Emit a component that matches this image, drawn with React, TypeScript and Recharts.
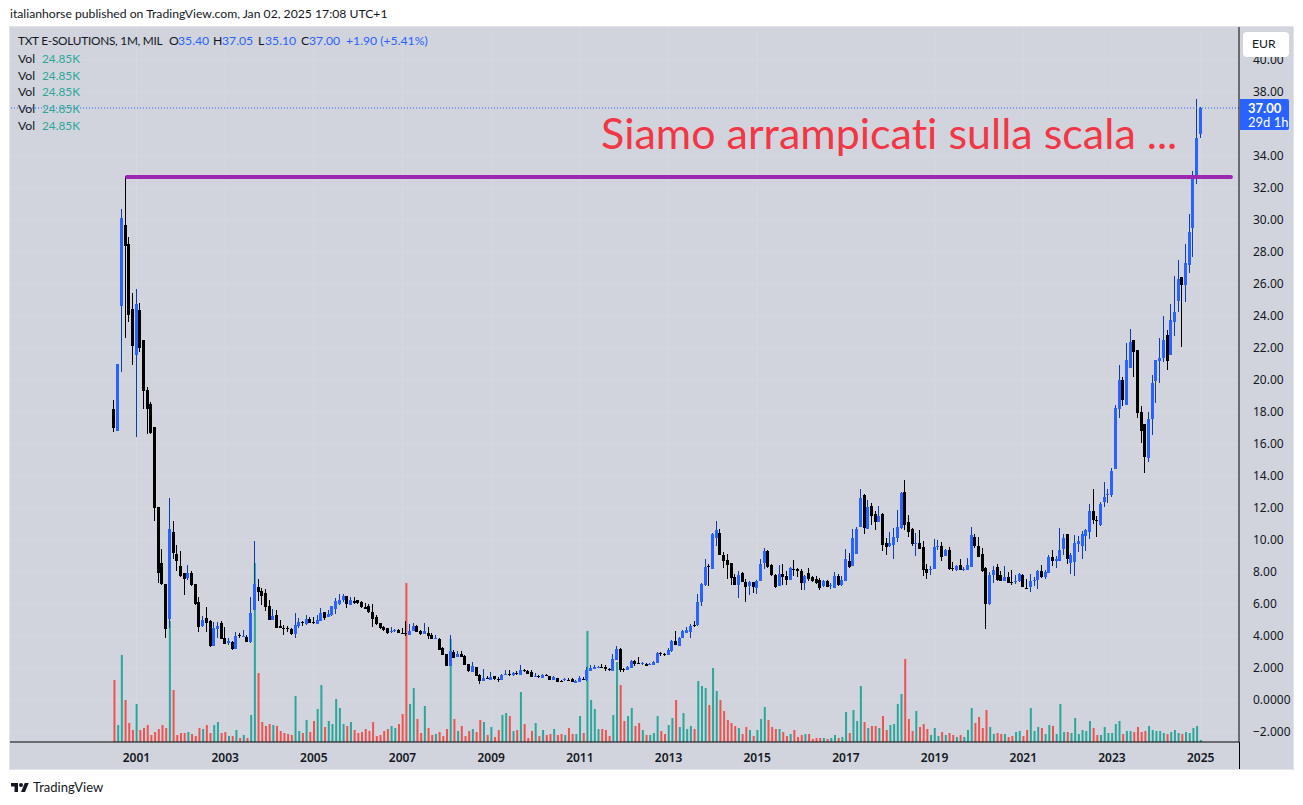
import { Bar, CartesianGrid, Cell, ComposedChart, ReferenceLine, XAxis, YAxis } from "recharts";

const opens = [
  18.19,16.83,24.64,29.69,28.5,24.44,21.58,24.38,22.5,19.38,
  18.5,17.06,12.06,8.54,7.25,5.08,10.5,9.13,8.38,7.92,
  7.6,7.94,7.25,6.13,4.63,5.13,4.94,3.38,4.44,4.81,
  3.88,3.56,3.63,3.19,4.06,3.94,3.94,3.63,5.63,7.06,
  6.81,6.69,5.88,5.0,5.31,4.63,4.5,4.5,4.44,4.13,
  4.63,4.88,4.73,5.06,4.88,4.75,4.96,5.5,5.19,5.31,
  5.69,6.0,6.25,6.5,5.94,6.19,6.25,6.13,5.81,5.88,
  5.5,5.19,4.81,4.56,4.5,4.25,4.31,4.38,4.19,4.19,
  4.06,4.31,4.63,4.31,4.13,4.19,4.06,3.81,3.81,3.25,
  2.88,2.13,3.0,2.69,2.88,2.75,2.25,1.75,2.06,1.56,
  1.19,1.38,1.25,1.5,1.31,1.25,1.56,1.63,1.56,1.69,
  1.56,1.88,1.81,1.75,1.44,1.5,1.38,1.56,1.5,1.25,
  1.38,1.17,1.25,1.25,1.31,1.06,1.13,1.31,1.25,1.81,
  1.94,2.0,2.06,2.06,1.96,1.81,2.5,3.19,1.94,1.88,
  2.0,2.44,2.31,2.25,2.25,2.19,2.19,2.31,2.94,2.88,
  2.81,3.06,3.69,3.38,3.88,4.19,4.25,4.69,4.69,6.13,
  7.19,8.38,8.19,10.13,10.44,9.06,8.75,8.56,7.69,7.19,
  7.94,7.38,7.13,7.38,7.0,7.44,8.56,9.31,8.44,7.81,
  7.13,7.88,7.75,7.5,8.19,8.19,8.06,7.31,7.94,7.69,
  7.56,7.5,7.13,7.44,7.13,7.0,7.75,7.19,7.44,8.69,
  8.38,9.13,10.81,12.81,10.69,12.13,11.63,11.13,11.63,9.81,
  9.63,9.69,10.13,10.75,13.0,11.13,10.69,9.75,9.81,9.56,
  8.19,8.13,8.19,9.56,9.63,9.0,9.38,8.25,8.13,8.44,
  8.13,8.13,8.31,10.19,9.63,9.13,8.25,6.0,7.81,8.31,
  7.81,7.44,7.69,7.38,7.38,7.44,7.81,7.0,7.06,7.44,
  7.5,8.06,7.69,7.94,8.94,8.69,8.69,9.44,10.38,8.56,
  8.63,9.75,9.63,10.25,10.5,11.81,11.25,10.94,12.38,12.81,
  12.81,14.44,18.19,20.0,18.44,20.75,22.5,21.88,18.0,17.25,
  15.13,17.56,19.94,21.19,21.38,22.81,21.56,23.63,24.94,26.44,
  25.94,27.19,29.5,32.63,35.4,
];

const highs = [
  18.75,21.0,30.69,32.75,28.94,25.44,25.69,24.81,22.5,19.56,
  18.6,17.06,12.06,9.44,7.25,12.63,11.19,9.69,9.31,7.92,
  8.44,8.06,7.25,6.44,5.25,5.81,5.0,4.88,4.88,4.94,
  4.56,3.88,3.69,4.25,4.19,4.38,4.06,6.44,9.94,7.56,
  7.0,6.94,6.25,5.69,5.63,5.0,4.69,4.63,4.5,5.44,
  5.13,4.94,5.31,5.19,5.21,5.31,5.75,5.5,5.63,5.88,
  6.38,6.63,6.63,6.5,6.44,6.44,6.25,6.19,6.06,6.0,
  6.0,5.31,4.81,4.63,4.5,4.56,4.44,4.44,4.5,4.94,
  4.75,4.81,4.69,4.38,4.81,4.56,4.19,4.06,3.88,3.31,
  2.88,4.06,3.13,3.06,3.06,2.81,2.25,2.38,2.06,1.63,
  1.94,1.5,1.75,1.5,1.44,1.63,1.88,1.88,1.75,1.81,
  2.19,1.94,1.88,1.88,1.69,1.56,1.63,1.63,1.5,1.5,
  1.38,1.25,1.38,1.38,1.38,1.25,1.5,1.44,2.06,2.19,
  2.19,2.13,2.25,2.19,2.0,2.88,3.38,3.25,2.0,2.13,
  2.5,2.5,2.69,2.38,2.31,2.31,2.44,3.0,3.0,2.94,
  3.25,3.75,4.31,3.94,4.38,4.56,4.75,4.94,6.63,7.31,
  8.81,8.5,10.44,11.19,10.69,9.25,9.13,8.56,7.88,8.06,
  8.0,7.56,7.44,7.38,7.5,8.81,9.5,9.38,8.5,7.88,
  8.44,8.5,8.06,8.31,8.75,8.25,8.19,7.81,8.25,7.75,
  7.75,7.63,7.5,7.5,7.31,8.0,7.88,7.75,9.44,9.19,
  10.69,10.81,13.19,12.88,12.5,12.31,11.81,12.13,11.69,10.13,
  10.5,10.75,11.88,13.0,13.75,11.56,10.75,10.44,10.63,9.94,
  8.5,8.38,10.06,10.0,9.88,9.44,9.56,8.63,8.44,8.81,
  8.31,8.88,10.81,10.38,10.19,9.5,8.31,8.0,8.38,8.5,
  8.06,8.38,8.0,8.13,7.81,7.94,7.88,7.56,7.88,7.69,
  8.13,8.44,8.13,9.06,9.38,9.0,10.75,10.38,10.38,9.19,
  10.31,10.25,10.56,10.69,12.25,13.19,11.5,12.38,13.63,13.19,
  14.5,18.44,20.94,20.19,22.31,23.19,22.5,21.88,18.38,17.25,
  18.0,20.31,21.25,22.63,24.0,23.13,24.75,26.5,27.5,26.44,
  28.5,30.38,33.06,37.56,37.05,
];

const lows = [
  16.77,16.8,20.52,22.64,23.64,20.96,16.46,21.77,18.21,16.64,
  16.64,11.2,7.33,7.19,3.89,4.52,8.81,8.08,7.69,6.56,
  7.5,7.13,5.94,4.25,4.58,4.25,3.31,3.38,3.88,3.81,
  3.5,3.44,3.13,3.19,3.88,3.94,3.63,3.56,5.63,6.19,
  5.94,5.56,5.0,5.0,4.5,4.5,4.06,4.25,4.06,3.88,
  4.5,4.63,4.69,4.79,4.75,4.75,4.92,5.0,5.19,5.25,
  5.38,5.94,6.13,5.75,5.94,6.0,6.0,5.75,5.69,5.44,
  4.56,4.69,4.44,4.31,4.13,4.17,4.25,4.19,4.13,4.0,
  4.06,4.31,4.25,4.06,4.13,3.81,3.81,3.81,3.13,2.81,
  2.13,2.13,2.63,2.69,2.69,2.19,1.75,1.75,1.5,1.0,
  1.19,1.31,1.25,1.25,1.13,1.25,1.56,1.5,1.5,1.56,
  1.56,1.75,1.63,1.44,1.44,1.38,1.38,1.5,1.25,1.25,
  1.13,1.13,1.19,1.19,1.13,1.06,1.13,1.25,1.19,1.81,
  1.94,2.0,2.0,1.81,1.81,1.81,2.5,1.75,1.75,1.88,
  2.0,2.13,2.25,2.19,2.13,2.19,2.19,2.31,2.75,2.75,
  2.81,3.0,3.44,3.38,3.88,4.19,3.88,4.56,4.63,5.88,
  7.13,7.13,8.19,9.63,9.06,8.25,7.56,7.19,7.19,6.38,
  7.38,6.13,6.56,6.69,6.63,7.44,8.19,8.25,7.75,7.0,
  7.13,7.19,7.19,7.5,7.75,7.69,6.88,6.88,7.44,7.38,
  7.25,6.88,7.06,7.06,6.94,7.0,7.13,7.13,7.44,8.25,
  8.38,9.13,10.81,10.38,10.69,10.94,10.63,11.13,9.31,9.06,
  9.56,8.81,9.88,10.69,10.63,10.19,9.63,9.0,9.44,7.75,
  7.56,7.81,8.19,9.38,8.69,9.0,8.13,8.06,8.06,8.13,
  8.06,8.13,8.31,9.5,8.94,8.0,4.44,5.94,7.31,7.44,
  7.44,7.44,7.31,7.19,7.25,7.38,7.06,6.94,6.75,7.13,
  6.94,7.63,7.56,7.94,8.38,8.25,8.69,9.06,8.5,7.88,
  7.75,9.25,8.81,9.31,10.06,11.0,10.19,10.88,12.06,12.31,
  12.69,14.44,17.63,18.38,18.44,20.75,20.19,17.63,16.06,14.19,
  14.88,16.56,18.56,19.81,21.13,20.63,21.56,22.75,24.25,22.06,
  24.88,26.69,27.69,32.25,35.1,
];

const closes = [
  17.02,21.0,30.12,28.39,24.08,22.14,24.75,22.02,19.33,18.21,
  16.71,12.02,7.92,7.25,4.46,10.69,9.21,8.69,7.75,7.56,
  7.94,7.19,6.0,4.58,5.0,4.81,3.38,4.5,4.63,3.81,
  3.5,3.69,3.19,4.0,4.0,4.0,3.63,5.44,7.25,6.75,
  6.5,5.81,5.0,5.25,4.5,4.5,4.44,4.44,4.13,4.69,
  4.88,4.85,5.04,4.81,4.83,5.0,5.44,5.13,5.38,5.88,
  6.19,6.25,6.5,6.0,6.25,6.06,6.06,5.81,5.69,5.5,
  5.06,4.75,4.5,4.38,4.19,4.31,4.38,4.19,4.15,4.15,
  4.31,4.63,4.25,4.13,4.31,4.0,3.81,3.88,3.13,2.81,
  2.13,3.06,2.63,2.88,2.69,2.19,1.81,2.13,1.5,1.19,
  1.38,1.33,1.44,1.31,1.27,1.56,1.63,1.58,1.69,1.65,
  1.88,1.81,1.63,1.44,1.5,1.46,1.56,1.52,1.25,1.44,
  1.13,1.13,1.31,1.21,1.13,1.19,1.38,1.27,1.88,2.0,
  2.06,2.06,2.02,1.94,1.92,2.56,3.19,1.88,1.9,2.06,
  2.44,2.25,2.27,2.31,2.13,2.25,2.38,2.94,2.9,2.83,
  3.13,3.69,3.44,3.88,4.31,4.38,4.63,4.65,6.13,7.25,
  8.31,8.33,10.38,10.63,9.06,8.69,8.44,7.63,7.19,7.81,
  7.38,7.06,7.38,7.06,7.44,8.5,9.31,8.31,7.81,7.06,
  7.88,7.69,7.5,8.25,8.15,8.06,7.31,7.75,7.56,7.44,
  7.31,7.0,7.44,7.06,7.19,7.75,7.19,7.5,8.81,8.31,
  10.13,10.69,12.63,10.75,12.06,11.5,11.13,11.5,9.69,9.56,
  9.81,10.19,10.81,12.94,10.94,10.5,9.75,9.81,9.44,8.13,
  7.94,8.19,9.56,9.63,8.94,9.38,8.19,8.21,8.38,8.13,
  8.19,8.44,10.31,9.63,8.94,8.06,6.0,7.81,8.13,7.5,
  7.44,7.69,7.31,7.33,7.44,7.88,7.06,6.96,7.44,7.5,
  8.06,7.69,8.0,8.94,8.69,8.81,9.38,10.13,8.81,9.06,
  9.81,9.94,10.38,10.63,11.81,11.25,11.2,12.25,12.69,12.88,
  14.31,18.25,20.0,18.75,21.25,22.38,21.75,17.94,16.81,15.19,
  17.56,19.81,21.25,21.38,22.5,21.19,23.75,24.25,26.31,25.94,
  27.31,29.25,32.69,35.13,37.0,
];

// thousands of shares
const volumes = [
  744,204,1044,504,228,144,456,144,168,204,
  84,120,156,204,168,1450,624,84,108,108,
  120,96,72,168,156,204,108,204,240,108,
  120,72,72,144,48,84,48,324,2148,828,
  240,192,216,204,192,132,108,96,84,552,
  132,108,264,120,252,396,684,180,252,216,
  516,408,216,192,240,144,108,120,156,132,
  240,72,84,132,156,192,168,216,336,1908,
  456,648,276,108,432,168,84,96,120,72,
  156,1236,276,132,192,72,132,156,120,264,
  240,84,180,60,144,324,348,312,132,144,
  600,216,48,132,228,72,144,84,96,156,
  84,96,84,168,96,96,312,108,1332,504,
  396,156,156,144,72,324,960,684,252,312,
  408,192,228,144,84,84,108,312,132,96,
  204,288,504,180,348,156,192,156,732,672,
  648,444,888,612,504,372,264,228,192,168,
  96,180,144,72,144,276,420,264,180,156,
  156,120,72,96,144,60,84,96,96,36,
  48,48,48,36,48,84,48,60,360,108,
  384,252,672,240,168,192,192,168,312,144,
  204,216,456,576,996,276,132,372,180,216,
  156,84,168,72,120,84,108,84,60,84,
  60,144,408,228,300,168,384,180,96,108,
  96,96,60,72,120,132,72,144,408,132,
  180,168,96,204,192,96,456,120,120,108,
  288,96,144,132,252,168,84,84,180,108,
  108,216,252,96,132,132,120,180,120,132,
  192,144,132,132,108,96,120,144,108,96,
  120,108,168,192,24.85,
];

// bar index of each January label, first bar is Jul 2000
const yearTicks = [6, 30, 54, 78, 102, 126, 150, 174, 198, 222, 246, 270, 294];
const yearLabels = ["2001", "2003", "2005", "2007", "2009", "2011", "2013", "2015", "2017", "2019", "2021", "2023", "2025"];
// 36.00 sits under the last price tag in the reference, so it is left out
const priceTicks = [40, 38, 34, 32, 30, 28, 26, 24, 22, 20, 18, 16, 14, 12, 10, 8, 6, 4, 2, 0, -2];
const priceLabels = ["40.00", "38.00", "34.00", "32.00", "30.00", "28.00", "26.00", "24.00", "22.00", "20.00", "18.00", "16.00", "14.00", "12.00", "10.00", "8.00", "6.00", "4.000", "2.000", "0.0000", "\u22122.000"];

const lastPrice = 37.0;
const resistance = 32.69;
const resistanceFrom = 3.43;
const resistanceTo = 302.2;

const chartData = opens.map((open, i) => ({
  idx: i,
  open,
  high: highs[i],
  low: lows[i],
  close: closes[i],
  range: [lows[i], highs[i]],
  volume: volumes[i],
}));

const FONT = "Lato, sans-serif";
const AXIS_FONT = "'Noto Sans', sans-serif";
const INK = "#131722";
const BLUE = "#2962ff";
const TEAL = "#2aa79b";

const xDomain = [-28.23, 304.38];
const yDomain = [-2.625, 42.0625];
const volDomain = [0, 8580];

function Candle(props: any) {
  const { x, y, width, height, payload } = props;
  const { open, high, low, close } = payload;
  const up = close >= open;
  const perUnit = height / (high - low);
  const top = y + (high - Math.max(open, close)) * perUnit;
  const bodyHeight = Math.max(1, Math.abs(open - close) * perUnit);
  const cx = Math.floor(x + width / 2);
  return (
    <g shapeRendering="crispEdges">
      <rect x={cx} y={y} width={1} height={height} fill={up ? "#0d3bb0" : "#000000"} />
      <rect x={cx - 1} y={top} width={3} height={bodyHeight} fill={up ? BLUE : "#000000"} />
    </g>
  );
}

function Txt({ x, y, color = INK, size = 12.2, children, style }: any) {
  return (
    <div
      style={{
        position: "absolute",
        left: x,
        top: y,
        color,
        fontSize: size,
        fontFamily: FONT,
        fontVariantLigatures: "none",
        lineHeight: "16px",
        whiteSpace: "nowrap",
        ...style,
      }}
    >
      {children}
    </div>
  );
}

const volRows = [51, 68, 84, 101, 118];

export default function App() {
  return (
    <div style={{ position: "absolute", left: 0, top: 0, width: 1303, height: 805, background: "#fff", overflow: "hidden" }}>
      <Txt x={10} y={6}>italianhorse published on TradingView.com, Jan 02, 2025 17:08 UTC+1</Txt>

      <div style={{ position: "absolute", left: 9, top: 26, width: 1283, height: 742, background: "#d1d4dc", border: "1px solid #e0e3eb" }} />

      <div style={{ position: "absolute", left: 10, top: 27 }}>
        <ComposedChart
          width={1283}
          height={742}
          data={chartData}
          margin={{ top: 0, right: 0, bottom: 0, left: 0 }}
          barGap={0}
        >
          <CartesianGrid stroke="#d5d8df" strokeWidth={1} yAxisId="price" xAxisId="price" />
          <XAxis
            xAxisId="price"
            type="number"
            dataKey="idx"
            domain={xDomain}
            allowDataOverflow
            ticks={yearTicks}
            interval={0}
            height={27}
            tickLine={false}
            axisLine={{ stroke: "#000000" }}
            tickMargin={5}
            tick={{ fontSize: 12, fontWeight: 600, fontFamily: AXIS_FONT, fill: INK }}
            tickFormatter={(v: number) => yearLabels[yearTicks.indexOf(v)]}
          />
          <XAxis xAxisId="vol" type="number" dataKey="idx" domain={xDomain} allowDataOverflow hide />
          <YAxis
            yAxisId="price"
            orientation="right"
            domain={yDomain}
            allowDataOverflow
            ticks={priceTicks}
            interval={0}
            width={54}
            tickLine={false}
            axisLine={{ stroke: "#000000" }}
            tickMargin={8}
            tick={{ fontSize: 12, fontFamily: AXIS_FONT, fill: INK, textAnchor: "start" }}
            tickFormatter={(v: number) => priceLabels[priceTicks.indexOf(v)]}
          />
          <YAxis yAxisId="vol" domain={volDomain} allowDataOverflow hide />

          <Bar xAxisId="vol" yAxisId="vol" dataKey="volume" barSize={2} isAnimationActive={false}>
            {chartData.map((d) => (
              <Cell key={d.idx} fill={d.close >= d.open ? TEAL : "#ef5350"} />
            ))}
          </Bar>
          <Bar xAxisId="price" yAxisId="price" dataKey="range" barSize={3} shape={Candle} isAnimationActive={false} />

          <ReferenceLine xAxisId="price" yAxisId="price" y={lastPrice} stroke={BLUE} strokeDasharray="1 2" />
          <ReferenceLine
            xAxisId="price"
            yAxisId="price"
            segment={[
              { x: resistanceFrom, y: resistance },
              { x: resistanceTo, y: resistance },
            ]}
            stroke="#9c27b0"
            strokeWidth={4}
            strokeLinecap="round"
          />
        </ComposedChart>
      </div>

      {/* axis line keeps going through the time scale */}
      <div style={{ position: "absolute", left: 1239, top: 742, width: 1, height: 27, background: "#000" }} />

      <Txt x={18} y={33} size={11.8} style={{ letterSpacing: -0.25 }}>TXT E-SOLUTIONS, 1M, MIL</Txt>
      <Txt x={169} y={33}>O</Txt>
      <Txt x={178} y={33} color={BLUE}>35.40</Txt>
      <Txt x={213} y={33}>H</Txt>
      <Txt x={222} y={33} color={BLUE}>37.05</Txt>
      <Txt x={258} y={33}>L</Txt>
      <Txt x={265} y={33} color={BLUE}>35.10</Txt>
      <Txt x={301} y={33}>C</Txt>
      <Txt x={309} y={33} color={BLUE}>37.00</Txt>
      <Txt x={346} y={33} color={BLUE}>+1.90 (+5.41%)</Txt>
      {volRows.map((y) => (
        <div key={y}>
          <Txt x={18} y={y}>Vol</Txt>
          <Txt x={42} y={y} color={TEAL} size={11.8}>24.85K</Txt>
        </div>
      ))}

      <Txt x={601} y={105} size={43} color="#f23645" style={{ lineHeight: "56px" }}>Siamo arrampicati sulla scala ...</Txt>

      <div style={{ position: "absolute", left: 1240, top: 99, width: 49, height: 31, background: BLUE, borderRadius: "0 2px 2px 0" }} />
      <Txt x={1248} y={100} color="#fff" size={13} style={{ fontWeight: 700 }}>37.00</Txt>
      <Txt x={1248} y={114} color="#fff" size={13}>29d 1h</Txt>

      <div style={{ position: "absolute", left: 1243, top: 32, width: 46, height: 25, background: "#fff", borderRadius: 4 }} />
      <Txt x={1252} y={36}>EUR</Txt>

      <svg style={{ position: "absolute", left: 10, top: 781 }} width={20} height={14} viewBox="0 0 36 28">
        <path d="M14 22H7V11H0V4h14v18zM28 22h-8l7.5-18h8L28 22z" fill={INK} />
        <circle cx={20} cy={8} r={4} fill={INK} />
      </svg>
      <Txt x={33} y={779} size={13}>TradingView</Txt>
    </div>
  );
}
